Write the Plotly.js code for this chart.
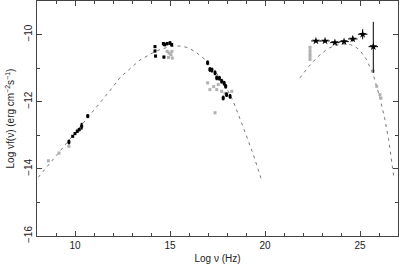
<!DOCTYPE html>
<html>
<head>
<meta charset="utf-8">
<script src="https://cdn.plot.ly/plotly-3.0.1.min.js"></script>
<style>html,body{margin:0;padding:0;background:#fff}#chart{width:409px;height:265px}</style>
</head>
<body>
<div id="chart"></div>
<script>
// Synchrotron model curve
const synX = [8.07, 9, 10, 11, 11.8, 12.4, 13.0, 13.42, 14.0, 14.5, 15.0, 15.5, 15.97, 16.4, 16.84, 17.2, 17.63, 18.0, 18.33, 18.68, 19.0, 19.4, 19.84];
const synY = [-14.25, -13.62, -12.93, -12.24, -11.7, -11.26, -10.95, -10.76, -10.57, -10.44, -10.36, -10.34, -10.39, -10.54, -10.74, -10.97, -11.29, -11.62, -11.99, -12.48, -12.98, -13.6, -14.37];
// Inverse Compton model curve
const icX = [21.84, 22.3, 22.8, 23.3, 23.7, 24.1, 24.5, 24.85, 25.1, 25.35, 25.7, 26.05, 26.3, 26.5, 26.78];
const icY = [-11.29, -10.95, -10.65, -10.42, -10.32, -10.28, -10.3, -10.4, -10.55, -10.75, -11.2, -11.89, -12.5, -13.1, -14.25];

// Black (simultaneous) data
const radioX = [9.68, 9.88, 10.0, 10.12, 10.22, 10.35, 10.67];
const radioY = [-13.2, -13.03, -12.95, -12.88, -12.83, -12.73, -12.43];
const radioErr = [0.07, 0.03, 0.03, 0.05, 0.05, 0.1, 0.06];
const optX = [14.21, 14.21, 14.24, 14.65, 14.72, 14.85, 15.0, 15.09, 14.68];
const optY = [-10.36, -10.49, -10.64, -10.27, -10.3, -10.27, -10.25, -10.3, -10.67];
const optErr = [0.04, 0.04, 0.04, 0.05, 0.05, 0.05, 0.05, 0.05, 0.04];
const xrayX = [16.98, 17.1, 17.2, 17.37, 17.46, 17.6, 17.72, 17.85, 17.93, 17.98, 18.16, 17.8];
const xrayY = [-10.84, -11.04, -11.06, -11.14, -11.29, -11.3, -11.39, -11.45, -11.54, -11.79, -11.84, -11.89];
const xrayErr = [0.07, 0.07, 0.07, 0.07, 0.07, 0.07, 0.07, 0.07, 0.07, 0.07, 0.07, 0.07];

// Grey (archival) data
const greyX = [8.6, 9.16, 9.68, 14.85, 14.95, 15.05, 15.12, 14.92, 15.1, 16.98, 17.1, 17.46, 17.54, 17.72, 18.25, 17.37, 17.3, 17.9, 22.37, 22.37, 22.37, 22.37, 22.37, 25.7, 25.88, 26.05, 26.1];
const greyY = [-13.76, -13.53, -13.33, -10.5, -10.55, -10.6, -10.7, -10.68, -10.5, -11.44, -11.64, -11.64, -11.49, -11.69, -11.69, -12.33, -11.55, -11.75, -10.38, -10.48, -10.57, -10.65, -10.74, -11.09, -11.54, -11.79, -11.89];

// Gamma-ray (stars)
const gamX = [22.68, 23.16, 23.68, 24.16, 24.62, 25.14, 25.7];
const gamY = [-10.19, -10.19, -10.24, -10.21, -10.13, -9.99, -10.36];
const gamErrX = [0.25, 0.25, 0.25, 0.25, 0.25, 0.25, 0.25];
const gamErrUp = [0.03, 0.03, 0.03, 0.03, 0.08, 0.15, 0.74];
const gamErrDn = [0.03, 0.03, 0.03, 0.03, 0.08, 0.15, 0.78];

const xTickVals = [10, 15, 20, 25];
const yTickVals = [-10, -12, -14, -16];
const yTickText = ['\u221210', '\u221212', '\u221214', '\u221216'];

const dashLine = {color: '#777', width: 1, dash: '3px,4px'};
function blackBars(x, y, e) {
  return {x: x, y: y, type: 'scatter', mode: 'markers', showlegend: false, hoverinfo: 'skip',
    marker: {symbol: 'square', size: 3, color: '#000'},
    error_y: {type: 'data', array: e, visible: true, color: '#000', thickness: 2, width: 0}};
}
const traces = [
  {x: synX, y: synY, type: 'scatter', mode: 'lines', line: dashLine, showlegend: false, hoverinfo: 'skip'},
  {x: icX, y: icY, type: 'scatter', mode: 'lines', line: dashLine, showlegend: false, hoverinfo: 'skip'},
  {x: greyX, y: greyY, type: 'scatter', mode: 'markers', showlegend: false, hoverinfo: 'skip',
    marker: {symbol: 'square', size: 3, color: '#b0b0b0'},
    error_y: {type: 'constant', value: 0.04, visible: true, color: '#b0b0b0', thickness: 1, width: 0}},
  blackBars(radioX, radioY, radioErr),
  blackBars(optX, optY, optErr),
  blackBars(xrayX, xrayY, xrayErr),
  {x: gamX, y: gamY, type: 'scatter', mode: 'markers', showlegend: false, hoverinfo: 'skip',
    marker: {symbol: 'star', size: 6, color: '#000'},
    error_x: {type: 'data', array: gamErrX, visible: true, color: '#000', thickness: 1, width: 0},
    error_y: {type: 'data', array: gamErrUp, arrayminus: gamErrDn, visible: true, color: '#000', thickness: 1, width: 0}}
];

const axCommon = {
  showgrid: false, zeroline: false, showline: true, linecolor: '#444', linewidth: 1,
  mirror: 'allticks', ticks: 'inside', ticklen: 5, tickcolor: '#444', tickwidth: 1,
  tickfont: {family: 'Arial, Liberation Sans, sans-serif', size: 10, color: '#222'}
};
const layout = {
  width: 409, height: 265,
  margin: {l: 37, r: 11, t: 1, b: 29},
  paper_bgcolor: '#fff', plot_bgcolor: '#fff',
  xaxis: Object.assign({}, axCommon, {
    range: [8, 27], tickmode: 'array', tickvals: xTickVals,
    minor: {dtick: 1, tick0: 0, ticks: 'inside', ticklen: 3, tickcolor: '#444'},
    title: {text: 'Log \u03bd (Hz)', standoff: 4, font: {family: 'Arial, Liberation Sans, sans-serif', size: 10, color: '#222'}}
  }),
  yaxis: Object.assign({}, axCommon, {
    range: [-16, -9], tickmode: 'array', tickvals: yTickVals, ticktext: yTickText, tickangle: -90,
    minor: {dtick: 1, tick0: 0, ticks: 'inside', ticklen: 3, tickcolor: '#444'},
    title: {text: 'Log \u03bdf(\u03bd) (erg cm<sup>\u22122</sup>s<sup>\u22121</sup>)', standoff: 6, font: {family: 'Arial, Liberation Sans, sans-serif', size: 10, color: '#222'}}
  })
};
Plotly.newPlot('chart', traces, layout, {displayModeBar: false, staticPlot: true});
</script>
</body>
</html>
